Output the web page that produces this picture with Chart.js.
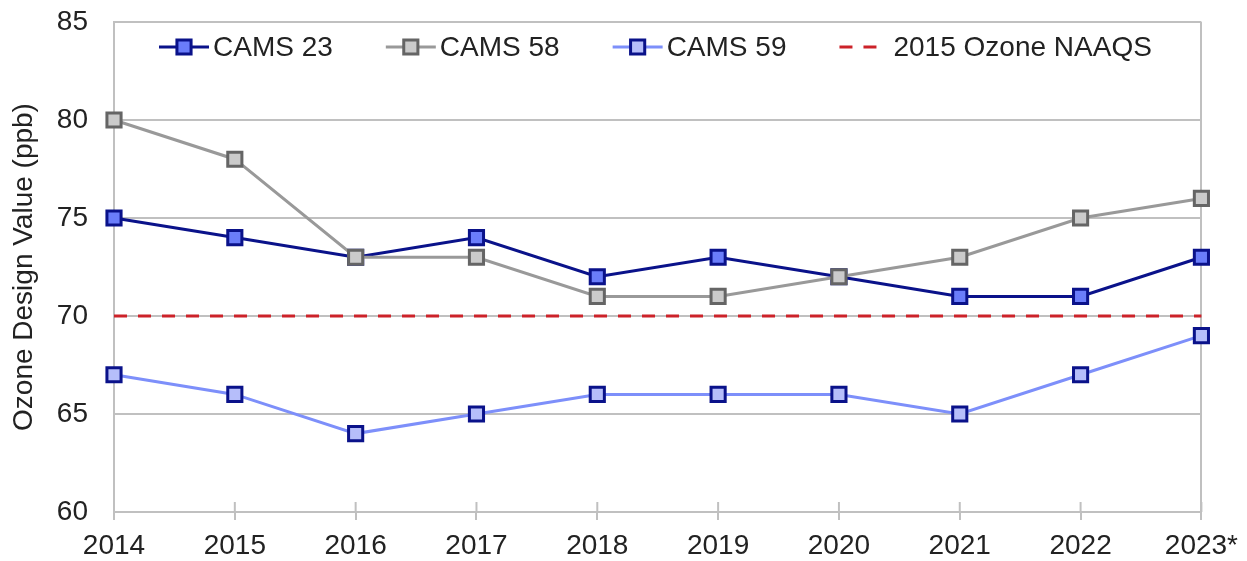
<!DOCTYPE html>
<html lang="en">
<head>
<meta charset="utf-8">
<title>Ozone Design Value</title>
<script src="https://cdn.jsdelivr.net/npm/chart.js@4.4.1/dist/chart.umd.min.js"></script>
<style>
  html, body { margin: 0; padding: 0; background: #fff; }
</style>
</head>
<body>
<canvas id="graficaOzono" width="1247" height="561"></canvas>
<script>
// Datos
const anios = ["2014", "2015", "2016", "2017", "2018", "2019", "2020", "2021", "2022", "2023*"];
const cams23 = [75, 74, 73, 74, 72, 73, 72, 71, 71, 73];
const cams58 = [80, 78, 73, 73, 71, 71, 72, 73, 75, 76];
const cams59 = [67, 66, 64, 65, 66, 66, 66, 65, 67, 69];
const naaqs2015 = [70, 70, 70, 70, 70, 70, 70, 70, 70, 70];
const ticksY = [60, 65, 70, 75, 80, 85];

const gris = "#c0c0c0";
const colorTexto = "#222222";
const fuente = "'Liberation Sans', Arial, sans-serif";

Chart.defaults.font.family = fuente;
Chart.defaults.color = colorTexto;

// Marcas del eje X que cruzan la línea del eje (hacia arriba)
const marcasEjeX = {
    id: "marcasEjeX",
    beforeDatasetsDraw(chart) {
        const ctx = chart.ctx;
        const escala = chart.scales.x;
        const fondo = chart.chartArea.bottom;
        ctx.save();
        ctx.strokeStyle = gris;
        ctx.lineWidth = 2;
        escala.ticks.forEach((t, i) => {
            const px = escala.getPixelForTick(i);
            ctx.beginPath();
            ctx.moveTo(px, fondo - 10);
            ctx.lineTo(px, fondo);
            ctx.stroke();
        });
        ctx.restore();
    }
};

// Leyenda dibujada dentro del área de la gráfica (línea + marcador)
const leyendaInterna = {
    id: "leyendaInterna",
    afterDraw(chart) {
        const ctx = chart.ctx;
        const area = chart.chartArea;
        let x = area.left + 45;
        const y = area.top + 25;
        ctx.save();
        ctx.font = "28px " + fuente;
        ctx.textBaseline = "middle";
        chart.data.datasets.forEach(ds => {
            const punteada = ds.borderDash && ds.borderDash.length > 0;
            ctx.save();
            ctx.strokeStyle = ds.borderColor;
            ctx.lineWidth = ds.borderWidth;
            ctx.setLineDash(punteada ? ds.borderDash : []);
            ctx.beginPath();
            ctx.moveTo(x, y);
            ctx.lineTo(x + (punteada ? 37 : 50), y);
            ctx.stroke();
            ctx.restore();

            if (ds.pointRadius > 0) {
                const lado = Math.SQRT1_2 * ds.pointRadius;
                ctx.fillStyle = ds.pointBackgroundColor;
                ctx.strokeStyle = ds.pointBorderColor;
                ctx.lineWidth = ds.pointBorderWidth;
                ctx.beginPath();
                ctx.rect(x + 25 - lado, y - lado, 2 * lado, 2 * lado);
                ctx.fill();
                ctx.stroke();
            }

            ctx.fillStyle = colorTexto;
            ctx.fillText(ds.label, x + 54, y + 1);
            x += 54 + ctx.measureText(ds.label).width + 53;
        });
        ctx.restore();
    }
};

const ctx = document.getElementById("graficaOzono").getContext("2d");
const grafica = new Chart(ctx, {
    type: "line",
    data: {
        labels: anios,
        datasets: [
            {
                label: "CAMS 23",
                data: cams23,
                borderColor: "#0a128a",
                borderWidth: 3,
                pointStyle: "rect",
                pointRadius: 10,
                pointBackgroundColor: "#6a7dfa",
                pointBorderColor: "#0a128a",
                pointBorderWidth: 3,
                order: 1,
                clip: false
            },
            {
                label: "CAMS 58",
                data: cams58,
                borderColor: "#999999",
                borderWidth: 3,
                pointStyle: "rect",
                pointRadius: 10,
                pointBackgroundColor: "#cbcbcb",
                pointBorderColor: "#656565",
                pointBorderWidth: 3,
                order: 0,
                clip: false
            },
            {
                label: "CAMS 59",
                data: cams59,
                borderColor: "#7d8ffa",
                borderWidth: 3,
                pointStyle: "rect",
                pointRadius: 10,
                pointBackgroundColor: "#b6befa",
                pointBorderColor: "#0a128a",
                pointBorderWidth: 3,
                order: 2,
                clip: false
            },
            {
                label: "2015 Ozone NAAQS",
                data: naaqs2015,
                borderColor: "#cc2229",
                borderWidth: 3,
                borderDash: [13, 11],
                pointRadius: 0,
                order: 3,
                clip: false
            }
        ]
    },
    options: {
        responsive: false,
        animation: false,
        layout: {
            autoPadding: false,
            padding: { left: 4, right: 44, top: 22, bottom: 0 }
        },
        plugins: {
            legend: { display: false },
            tooltip: { enabled: false }
        },
        scales: {
            x: {
                offset: false,
                afterFit: escala => { escala.height = 49; },
                grid: {
                    drawOnChartArea: true,
                    color: c => c.index === anios.length - 1 ? gris : "rgba(0,0,0,0)",
                    tickColor: gris,
                    tickLength: 8,
                    lineWidth: 2
                },
                border: { color: gris, width: 2 },
                ticks: {
                    font: { size: 28 },
                    padding: 9,
                    maxRotation: 0,
                    autoSkip: false
                }
            },
            y: {
                min: ticksY[0],
                max: ticksY[ticksY.length - 1],
                afterFit: escala => { escala.width = 110; },
                afterBuildTicks: escala => {
                    escala.ticks = ticksY.map(v => ({ value: v }));
                },
                grid: {
                    color: gris,
                    lineWidth: 2,
                    drawTicks: true,
                    tickLength: 22,
                    tickColor: "rgba(0,0,0,0)"
                },
                border: { color: gris, width: 2 },
                ticks: {
                    font: { size: 28 },
                    padding: 4
                },
                title: {
                    display: true,
                    text: "Ozone Design Value (ppb)",
                    font: { size: 28 },
                    padding: { top: 3, bottom: 4 }
                }
            }
        }
    },
    plugins: [marcasEjeX, leyendaInterna]
});
</script>
</body>
</html>
